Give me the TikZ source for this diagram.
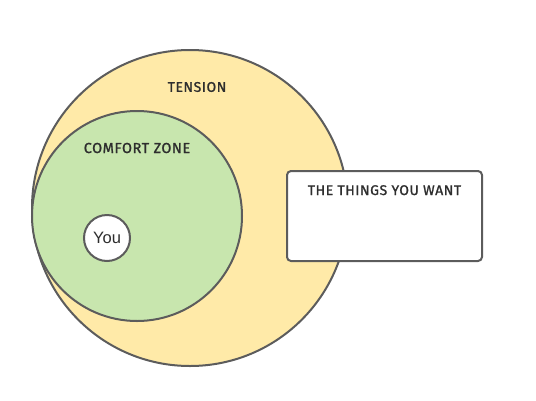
\documentclass[tikz,border=0pt]{standalone}
\usepackage{fontspec}
\setmainfont{Liberation Sans}
\newfontfamily\handfont[LetterSpace=4,FakeBold=1.2]{Fira Sans}
\usepackage{xcolor}
\usetikzlibrary{positioning}
\definecolor{tensionfill}{HTML}{FFEAA8}
\definecolor{comfortfill}{HTML}{C8E6AE}
\definecolor{edge}{HTML}{5C5C5C}
\definecolor{ink}{HTML}{2E2E2E}

\begin{document}
\begin{tikzpicture}[x=1pt,y=-1pt,
  zone/.style={circle,draw=edge,line width=2pt,inner sep=0pt},
  label/.style={text=ink,font=\handfont\fontsize{14}{16}\selectfont,inner sep=0pt}]
  \useasboundingbox (0,0) rectangle (536,400);
  \node[zone,fill=tensionfill,minimum size=316pt] (tension) at (190,208) {};
  \node[zone,fill=comfortfill,minimum size=210pt] (comfort) at (137,216) {};
  \node[zone,fill=white,minimum size=46pt,text=ink,font=\fontsize{16.5}{19}\selectfont] (you) at (107,238) {You};
  \node[draw=edge,fill=white,line width=2pt,rounded corners=4pt,
    minimum width=195pt,minimum height=90pt] (want) at (384.5,216) {};
  \node[label] (tensionlbl) at (197,87) {TENSION};
  \node[label,font=\handfont\fontsize{14.5}{16}\selectfont] (comfortlbl) at (137,148) {COMFORT ZONE};
  \node[label,below=15pt of want.north] (wantlbl) {THE THINGS YOU WANT};
\end{tikzpicture}
\end{document}
